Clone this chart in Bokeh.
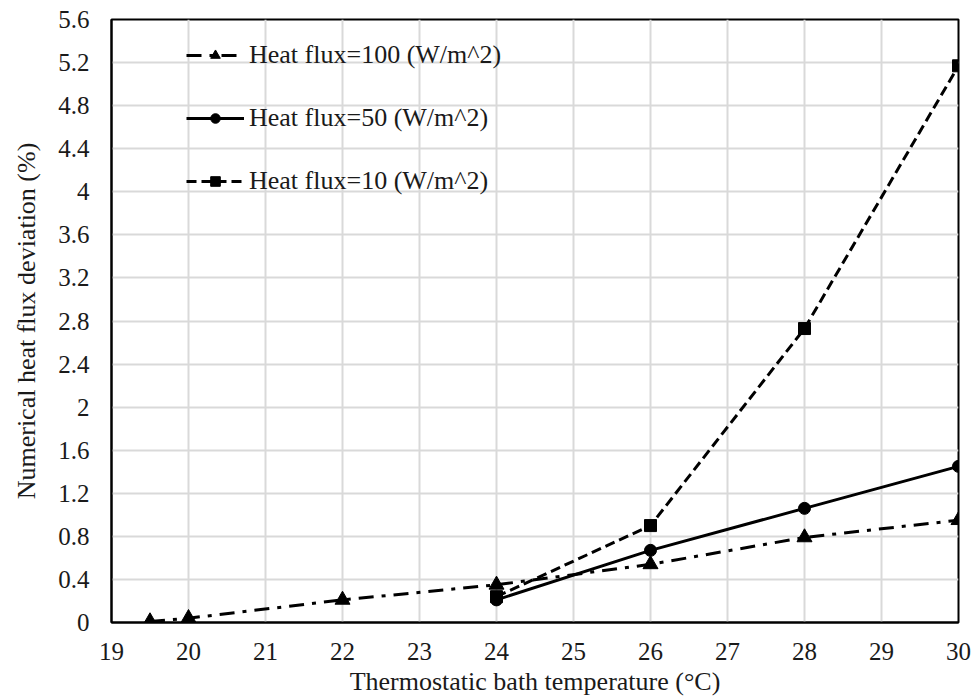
from bokeh.plotting import figure
from bokeh.models import Range1d, FixedTicker, Legend, LegendItem
from bokeh.embed import file_html
from bokeh.resources import INLINE

# Data
x100 = [19.5, 20, 22, 24, 26, 28, 30]
y100 = [0.01, 0.04, 0.21, 0.35, 0.54, 0.79, 0.95]
x50 = [24, 26, 28, 30]
y50 = [0.21, 0.67, 1.06, 1.45]
x10 = [24, 26, 28, 30]
y10 = [0.24, 0.90, 2.73, 5.17]

xticks = list(range(19, 31))
yticks = [0, 0.4, 0.8, 1.2, 1.6, 2, 2.4, 2.8, 3.2, 3.6, 4, 4.4, 4.8, 5.2, 5.6]
ytick_labels = {v: ("%g" % v) for v in yticks}

FONT = "Liberation Serif"
TXT = "#1a1a1a"

p = figure(width=976, height=699, output_backend="svg", toolbar_location=None,
           x_range=Range1d(19, 30), y_range=Range1d(0, 5.6),
           min_border_left=111, min_border_right=18, min_border_top=19, min_border_bottom=77)

p.outline_line_color = "black"
p.outline_line_width = 2
p.background_fill_color = "white"
p.border_fill_color = "white"

for ax in (p.xaxis[0], p.yaxis[0]):
    ax.major_label_text_font = FONT
    ax.major_label_text_font_size = "25px"
    ax.major_label_text_color = TXT
    ax.axis_label_text_font = FONT
    ax.axis_label_text_font_size = "26px"
    ax.axis_label_text_font_style = "normal"
    ax.axis_label_text_color = TXT
    ax.major_tick_line_color = None
    ax.minor_tick_line_color = None
    ax.major_tick_out = 0
    ax.major_tick_in = 0
    ax.minor_tick_out = 0
    ax.minor_tick_in = 0
    ax.axis_line_color = "black"
    ax.axis_line_width = 2

p.xaxis.ticker = FixedTicker(ticks=xticks)
p.yaxis.ticker = FixedTicker(ticks=yticks)
p.yaxis.major_label_overrides = ytick_labels
p.xaxis.axis_label = "Thermostatic bath temperature (°C)"
p.yaxis.axis_label = "Numerical heat flux deviation (%)"
p.xaxis.major_label_standoff = 20
p.yaxis.major_label_standoff = 22
p.xaxis.axis_label_standoff = 4
p.yaxis.axis_label_standoff = 14

p.xgrid.grid_line_color = "#d9d9d9"
p.ygrid.grid_line_color = "#d9d9d9"
p.xgrid.grid_line_width = 2
p.ygrid.grid_line_width = 2

l100 = p.line(x100, y100, line_color="black", line_width=3, line_dash="15 8 4 8")
m100 = p.scatter(x100, y100, marker="triangle", size=15, fill_color="black", line_color="black")
l50 = p.line(x50, y50, line_color="black", line_width=3)
m50 = p.scatter(x50, y50, marker="circle", size=12, fill_color="black", line_color="black")
l10 = p.line(x10, y10, line_color="black", line_width=3, line_dash="10 5")
m10 = p.scatter(x10, y10, marker="square", size=12, fill_color="black", line_color="black")

legend = Legend(items=[
    LegendItem(label="Heat flux=100 (W/m^2)", renderers=[l100, m100]),
    LegendItem(label="Heat flux=50 (W/m^2)", renderers=[l50, m50]),
    LegendItem(label="Heat flux=10 (W/m^2)", renderers=[l10, m10]),
], location=(75, 426))
legend.label_text_font = FONT
legend.label_text_font_size = "26px"
legend.label_text_color = TXT
legend.glyph_width = 58
legend.glyph_height = 24
legend.label_height = 24
legend.spacing = 33
legend.background_fill_alpha = 0
legend.border_line_color = None
legend.label_standoff = 5
legend.padding = 0
legend.margin = 0
p.add_layout(legend)

open("out.html", "w").write(file_html(p, INLINE))
